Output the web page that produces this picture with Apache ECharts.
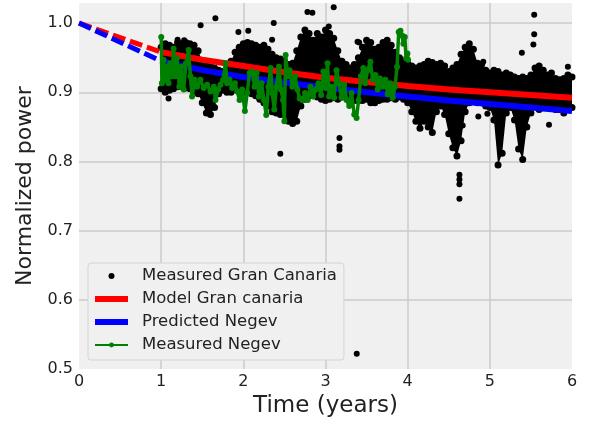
<!DOCTYPE html>
<html><head><meta charset="utf-8">
<script src="https://cdn.jsdelivr.net/npm/echarts@6/dist/echarts.min.js"></script>
<style>html,body{margin:0;padding:0;background:#fff}#c{width:591px;height:423px}</style>
</head><body><div id="c"></div>
<script>
// ---- data ----
const xTicks = [0, 1, 2, 3, 4, 5, 6];
const yTicks = [0.5, 0.6, 0.7, 0.8, 0.9, 1.0];

// Measured Gran Canaria: dense cloud read as upper/lower envelope per time step
const gcT = [1.00,1.05,1.10,1.15,1.20,1.25,1.30,1.35,1.40,1.45,1.50,1.55,1.60,1.65,1.70,1.75,1.80,1.85,1.90,1.95,
  2.00,2.05,2.10,2.15,2.20,2.25,2.30,2.35,2.40,2.45,2.50,2.55,2.60,2.65,2.70,2.75,2.80,2.85,2.90,2.95,
  3.00,3.05,3.10,3.15,3.20,3.25,3.30,3.35,3.40,3.45,3.50,3.55,3.60,3.65,3.70,3.75,3.80,3.85,3.90,3.95,
  4.00,4.05,4.10,4.15,4.20,4.25,4.30,4.35,4.40,4.45,4.50,4.55,4.60,4.65,4.70,4.75,4.80,4.85,4.90,4.95,
  5.00,5.05,5.10,5.15,5.20,5.25,5.30,5.35,5.40,5.45,5.50,5.55,5.60,5.65,5.70,5.75,5.80,5.85,5.90,5.95,6.00];
const gcHi = [0.965,0.970,0.968,0.965,0.972,0.970,0.972,0.970,0.968,0.960,0.945,0.940,0.938,0.935,0.932,0.930,0.935,0.945,0.958,0.965,
  0.970,0.972,0.970,0.968,0.965,0.968,0.962,0.955,0.950,0.948,0.945,0.940,0.942,0.960,0.980,0.990,0.985,0.975,0.985,0.980,
  0.990,0.985,0.978,0.960,0.945,0.940,0.935,0.940,0.950,0.965,0.975,0.972,0.962,0.965,0.972,0.975,0.968,0.958,0.950,0.945,
  0.942,0.938,0.935,0.938,0.940,0.945,0.943,0.940,0.942,0.938,0.930,0.935,0.940,0.955,0.965,0.970,0.962,0.942,0.940,0.932,
  0.928,0.932,0.930,0.925,0.928,0.925,0.922,0.920,0.922,0.920,0.925,0.935,0.938,0.932,0.925,0.928,0.920,0.918,0.920,0.925,0.922];
const gcLo = [0.905,0.900,0.903,0.905,0.908,0.908,0.906,0.905,0.902,0.898,0.885,0.870,0.868,0.878,0.898,0.903,0.900,0.900,0.904,0.905,
  0.900,0.900,0.898,0.895,0.890,0.885,0.880,0.872,0.870,0.868,0.868,0.858,0.855,0.858,0.880,0.890,0.895,0.895,0.893,0.890,
  0.888,0.890,0.892,0.890,0.893,0.893,0.890,0.888,0.888,0.888,0.890,0.885,0.885,0.888,0.890,0.890,0.892,0.890,0.893,0.890,
  0.885,0.872,0.858,0.848,0.858,0.850,0.842,0.872,0.880,0.868,0.840,0.820,0.808,0.830,0.872,0.885,0.890,0.885,0.885,0.880,
  0.878,0.860,0.795,0.812,0.870,0.878,0.860,0.818,0.803,0.850,0.870,0.880,0.875,0.878,0.880,0.878,0.875,0.875,0.870,0.875,0.878];
// isolated measured points
const gcOutT = [1.09,1.48,1.66,1.94,2.06,2.35,2.37,2.45,2.78,2.84,3.10,3.17,3.17,3.17,3.38,3.39,3.41,4.63,4.63,4.63,4.63,4.67,4.86,4.92,4.97,5.39,5.54,5.54,5.53,5.72,5.95,3.04,1.20,1.28];
const gcOutV = [0.891,0.997,1.007,0.987,0.989,0.976,1.000,0.811,1.016,1.015,1.023,0.834,0.822,0.817,0.522,0.973,0.972,0.781,0.774,0.767,0.746,0.852,0.865,0.944,0.869,0.957,1.012,0.984,0.969,0.853,0.937,0.995,0.976,0.975];

// Model Gran canaria (red)
const modelDashT = [0, 1];
const modelDashV = [1.000, 0.958];
const modelT = [1, 1.5, 2, 2.5, 3, 3.5, 4, 4.5, 5, 5.5, 6];
const modelV = [0.958, 0.947, 0.938, 0.929, 0.921, 0.915, 0.909, 0.904, 0.900, 0.896, 0.892];
// Predicted Negev (blue)
const predDashT = [0, 1];
const predDashV = [1.000, 0.945];
const predT = [1, 1.5, 2, 2.5, 3, 3.5, 4, 4.5, 5, 5.5, 6];
const predV = [0.945, 0.932, 0.922, 0.914, 0.907, 0.900, 0.894, 0.888, 0.883, 0.878, 0.873];

// Measured Negev (green)
const negevT = [1.001,1.009,1.03,1.05,1.07,1.09,1.11,1.131,1.152,1.172,1.193,1.221,1.245,1.274,1.302,1.335,1.356,1.376,1.408,1.437,
  1.478,1.518,1.559,1.60,1.64,1.661,1.693,1.722,1.754,1.783,1.803,1.832,1.864,1.897,1.925,1.954,1.986,2.019,2.047,2.076,
  2.108,2.137,2.161,2.19,2.222,2.251,2.279,2.304,2.332,2.352,2.377,2.401,2.434,2.458,2.483,2.499,2.515,2.54,2.564,2.597,
  2.63,2.658,2.686,2.719,2.751,2.784,2.817,2.849,2.882,2.914,2.947,2.975,3.004,3.024,3.044,3.077,3.105,3.134,3.166,3.195,
  3.228,3.256,3.289,3.317,3.35,3.378,3.403,3.431,3.46,3.484,3.513,3.546,3.574,3.607,3.635,3.663,3.696,3.728,3.757,3.785,
  3.818,3.846,3.871,3.891,3.912,3.932,3.948,3.965,3.981,3.997,4.005];
const negevV = [0.980,0.913,0.947,0.918,0.937,0.913,0.942,0.923,0.963,0.923,0.949,0.908,0.937,0.904,0.942,0.961,0.923,0.894,0.918,0.908,
  0.918,0.906,0.911,0.901,0.908,0.889,0.904,0.911,0.918,0.942,0.913,0.918,0.906,0.913,0.901,0.889,0.904,0.873,0.899,0.928,
  0.930,0.908,0.928,0.894,0.913,0.889,0.867,0.908,0.935,0.899,0.875,0.908,0.937,0.904,0.889,0.858,0.954,0.923,0.932,0.908,
  0.923,0.904,0.891,0.889,0.899,0.889,0.908,0.894,0.904,0.913,0.896,0.930,0.906,0.942,0.894,0.908,0.892,0.932,0.913,0.892,
  0.911,0.889,0.880,0.899,0.868,0.863,0.889,0.923,0.935,0.913,0.932,0.944,0.918,0.925,0.904,0.920,0.908,0.918,0.897,0.913,
  0.892,0.908,0.937,0.987,0.989,0.982,0.970,0.980,0.949,0.956,0.947];

// ---- chart ----
const zip = (a, b) => a.map((v, i) => [v, b[i]]);
const font = 'DejaVu Sans';
const chart = echarts.init(document.getElementById('c'), null, {renderer: 'canvas'});
chart.setOption({
  animation: false,
  backgroundColor: '#ffffff',
  textStyle: {fontFamily: font},
  grid: {left: 79, right: 19, top: 3, bottom: 53, show: true, backgroundColor: '#f0f0f0', borderWidth: 0},
  xAxis: {
    type: 'value', min: xTicks[0], max: xTicks[xTicks.length - 1], interval: 1,
    name: 'Time (years)', nameLocation: 'middle', nameGap: 21,
    nameTextStyle: {fontSize: 23, color: '#222', fontFamily: font},
    axisLine: {show: false}, axisTick: {show: false},
    axisLabel: {fontSize: 16, color: '#222', margin: 5, fontFamily: font, formatter: v => String(Math.round(v))},
    splitLine: {show: true, showMinLine: false, showMaxLine: false, lineStyle: {color: '#cbcbcb', width: 1.5}}
  },
  yAxis: {
    type: 'value', min: yTicks[0], max: 1.029, interval: 0.1,
    name: 'Normalized power', nameLocation: 'middle', nameGap: 40, nameRotate: 90,
    nameTextStyle: {fontSize: 22, color: '#222', fontFamily: font},
    axisLine: {show: false}, axisTick: {show: false},
    axisLabel: {fontSize: 16, color: '#222', margin: 6, fontFamily: font, showMaxLabel: false,
      formatter: v => (Math.abs(v * 10 - Math.round(v * 10)) < 1e-6 ? v.toFixed(1) : '')},
    splitLine: {show: true, showMinLine: false, showMaxLine: false, lineStyle: {color: '#cbcbcb', width: 1.5}}
  },
  legend: {
    orient: 'vertical', left: 88, top: 263, align: 'left',
    itemWidth: 33, itemHeight: 6, itemGap: 5,
    padding: [4, 7, 6, 6],
    backgroundColor: '#f0f0f0', borderColor: '#d4d4d4', borderWidth: 1, borderRadius: 3,
    textStyle: {fontSize: 16.5, color: '#222', fontFamily: font, lineHeight: 18, padding: [0, 0, 0, 9]},
    data: [
      {name: 'Measured Gran Canaria', icon: 'circle', itemStyle: {color: '#000', opacity: 1}},
      {name: 'Model Gran canaria', icon: 'rect', itemStyle: {color: '#ff0000'}},
      {name: 'Predicted Negev', icon: 'rect', itemStyle: {color: '#0000ff'}},
      {name: 'Measured Negev'}
    ]
  },
  series: [
    {
      // dense measured cloud: one filled polygon built from the envelope through the axes
      name: 'gcBand', type: 'custom',
      data: gcT.map((t, i) => [t, gcLo[i], gcHi[i]]),
      encode: {x: 0, y: [1, 2]},
      renderItem: (params, api) => {
        if (params.dataIndex !== 0) return null;
        const n = gcT.length, pts = [];
        for (let i = 0; i < n; i++) pts.push(api.coord([gcT[i], gcHi[i]]));
        for (let i = n - 1; i >= 0; i--) pts.push(api.coord([gcT[i], gcLo[i]]));
        return {type: 'polygon', shape: {points: pts}, style: {fill: '#000'}};
      }
    },
    {name: 'gcHiEdge', type: 'scatter', symbolSize: 7, itemStyle: {color: '#000', opacity: 1}, data: zip(gcT, gcHi)},
    {name: 'gcLoEdge', type: 'scatter', symbolSize: 7, itemStyle: {color: '#000', opacity: 1}, data: zip(gcT, gcLo)},
    {name: 'Measured Gran Canaria', type: 'scatter', symbolSize: 6, itemStyle: {color: '#000', opacity: 1}, data: zip(gcOutT, gcOutV)},
    {name: 'modelDash', type: 'line', z: 3, showSymbol: false, symbol: 'none', data: zip(modelDashT, modelDashV),
      lineStyle: {color: '#ff0000', width: 5, type: [13, 5]}},
    {name: 'Model Gran canaria', type: 'line', z: 3, showSymbol: false, symbol: 'none', data: zip(modelT, modelV),
      itemStyle: {color: '#ff0000'}, lineStyle: {color: '#ff0000', width: 6}},
    {name: 'predDash', type: 'line', z: 3, showSymbol: false, symbol: 'none', data: zip(predDashT, predDashV),
      lineStyle: {color: '#0000ff', width: 5, type: [13, 5]}},
    {name: 'Predicted Negev', type: 'line', z: 3, showSymbol: false, symbol: 'none', data: zip(predT, predV),
      itemStyle: {color: '#0000ff'}, lineStyle: {color: '#0000ff', width: 6}},
    {name: 'Measured Negev', type: 'line', z: 4, symbol: 'circle', symbolSize: 6, showSymbol: true, showAllSymbol: true,
      data: zip(negevT, negevV), itemStyle: {color: '#008000'}, lineStyle: {color: '#008000', width: 3.5}}
  ]
});
</script></body></html>
